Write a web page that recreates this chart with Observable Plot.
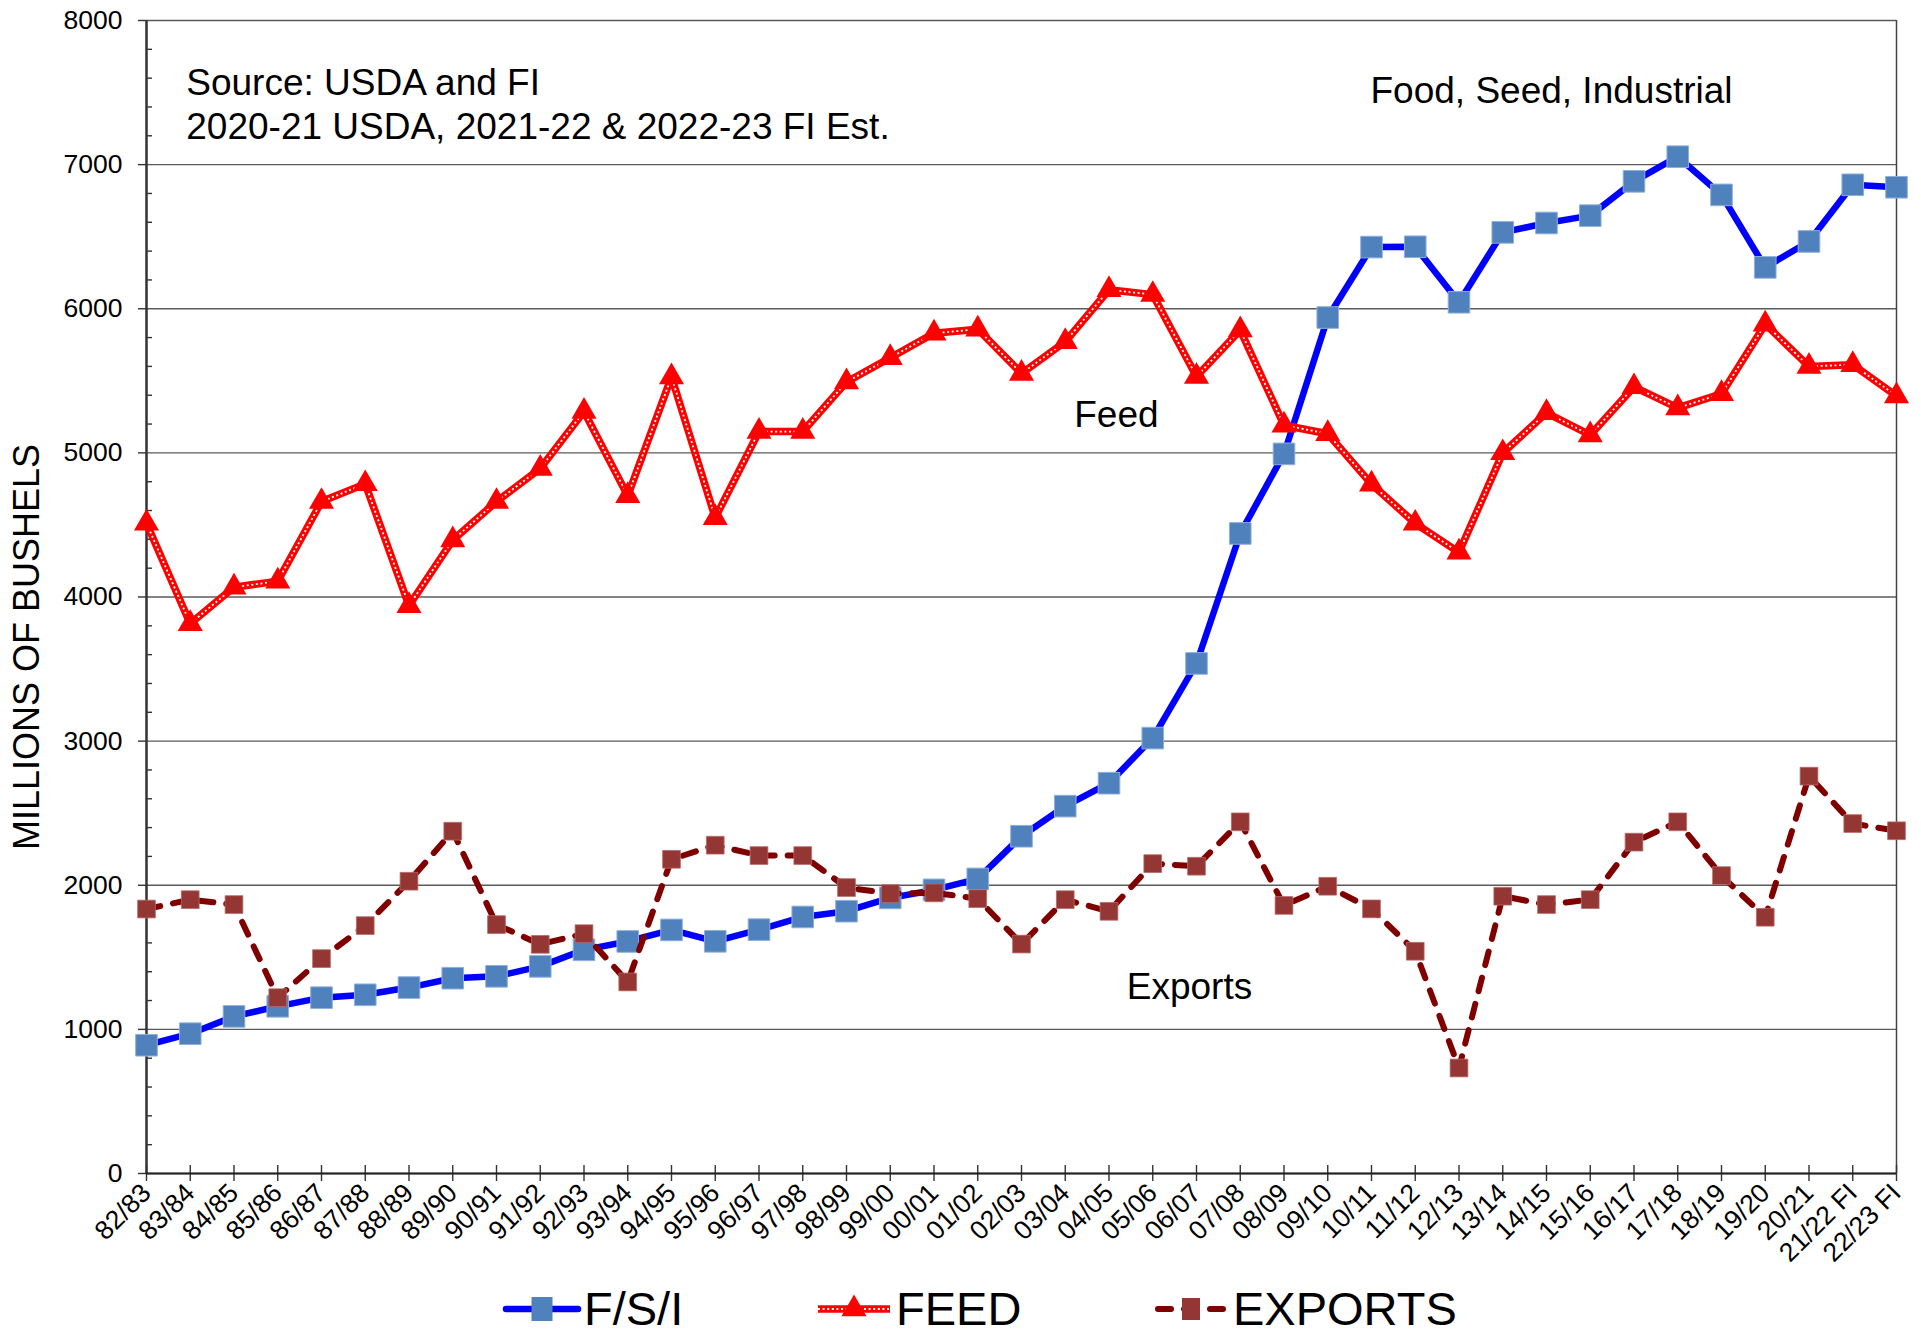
<!DOCTYPE html>
<html><head><meta charset="utf-8">
<script src="https://cdn.jsdelivr.net/npm/d3@7"></script>
<script src="https://cdn.jsdelivr.net/npm/@observablehq/plot@0.6"></script>
<style>
html,body{margin:0;padding:0;background:#fff;overflow:hidden;font-family:"Liberation Sans",Arial,sans-serif;}
#chart svg{display:block;max-width:none !important;}
</style></head><body><div id="chart"></div><script>
const years = ["82/83","83/84","84/85","85/86","86/87","87/88","88/89","89/90","90/91","91/92","92/93","93/94","94/95","95/96","96/97","97/98","98/99","99/00","00/01","01/02","02/03","03/04","04/05","05/06","06/07","07/08","08/09","09/10","10/11","11/12","12/13","13/14","14/15","15/16","16/17","17/18","18/19","19/20","20/21","21/22 FI","22/23 FI"];
const fsi = [890,970,1090,1160,1220,1240,1290,1355,1368,1437,1552,1610,1690,1611,1692,1780,1820,1912,1968,2044,2340,2549,2708,3021,3539,4441,4993,5939,6428,6430,6045,6530,6595,6646,6884,7055,6790,6287,6467,6860,6843];
const feed = [4512,3815,4068,4110,4662,4785,3940,4395,4662,4892,5287,4703,5527,4550,5148,5148,5492,5660,5830,5858,5551,5771,6132,6098,5530,5852,5192,5133,4783,4511,4310,5000,5278,5124,5458,5312,5410,5893,5600,5612,5395];
const exportsV = [1835,1900,1866,1220,1491,1720,2028,2375,1727,1590,1664,1329,2180,2278,2206,2206,1984,1942,1947,1907,1592,1900,1819,2150,2132,2440,1860,1993,1836,1542,732,1924,1866,1900,2299,2440,2067,1778,2757,2428,2378];
const yTicks = [0,1000,2000,3000,4000,5000,6000,7000,8000];
const yMinor = d3.range(0, 8001, 200).filter(v => v % 1000 !== 0);
const seriesNames = ["F/S/I", "FEED", "EXPORTS"];
const yLabel = "MILLIONS OF BUSHELS";
const notes = [
  {text: "Source: USDA and FI\n2020-21 USDA, 2021-22 & 2022-23 FI Est.", at: "83/84", value: 7700, dx: -4},
  {text: "Food, Seed, Industrial", at: "10/11", value: 7646, dx: -1},
  {text: "Feed", at: "03/04", value: 5398, dx: 9},
  {text: "Exports", at: "05/06", value: 1429, dx: -26}
];

const W = 1921, H = 1272, TOTAL = 1336;
const font = '"Liberation Sans", Arial, sans-serif';
const rows = vals => years.map((y, i) => ({year: y, value: vals[i]}));
const dFsi = rows(fsi), dFeed = rows(feed), dExp = rows(exportsV);
const pLeft = 146, pRight = 1896, pTop = 20, pBottom = 1173;

const noteMarks = notes.map(n => Plot.text([n], {x: "at", y: "value", text: "text", dx: n.dx, textAnchor: "start", lineAnchor: "top", fontSize: 37, lineHeight: 1.19, fill: "#000"}));

const chart = Plot.plot({
  width: W, height: H,
  marginTop: pTop, marginBottom: H - pBottom, marginLeft: pLeft, marginRight: W - pRight,
  style: {fontFamily: font, color: "#000", background: "#fff", overflow: "visible", maxWidth: "none"},
  x: {type: "point", domain: years, padding: 0, round: false, range: [pLeft, pRight]},
  y: {domain: [0, 8000], range: [pBottom, pTop]},
  marks: [
    Plot.gridY(yTicks, {stroke: "#5a5a5a", strokeOpacity: 1, strokeWidth: 1.4}),
    Plot.ruleX([years[years.length - 1]], {stroke: "#444", strokeWidth: 1.5}),
    Plot.axisY(yMinor, {tickSize: 6, dx: 6, tickFormat: () => "", label: null, stroke: "#333", strokeWidth: 1.4}),
    Plot.axisY(yTicks, {tickSize: 8, tickPadding: 16, fontSize: 26.5, tickFormat: d3.format("d"), label: null, stroke: "#333", strokeWidth: 1.4, fill: "#000"}),
    Plot.axisX({tickSize: 16, dy: -8, tickFormat: () => "", label: null, stroke: "#333", strokeWidth: 1.4}),
    Plot.axisX({tickSize: 0, tickPadding: 15, tickRotate: -45, fontSize: 26.5, label: null, fill: "#000"}),
    Plot.ruleX([years[0]], {stroke: "#333", strokeWidth: 2.5}),
    Plot.ruleY([0], {stroke: "#222", strokeWidth: 2}),
    Plot.line(dFsi, {x: "year", y: "value", stroke: "#0000FF", strokeWidth: 6.5}),
    Plot.dot(dFsi, {x: "year", y: "value", symbol: "square", r: 12.2, fill: "#4F81BD", stroke: "#8FB0DC", strokeWidth: 1}),
    Plot.line(dFeed, {x: "year", y: "value", stroke: "#FF0000", strokeWidth: 7.5}),
    Plot.line(dFeed, {x: "year", y: "value", stroke: "#fff", strokeWidth: 1.8, strokeDasharray: "2 2.6", strokeLinecap: "butt"}),
    Plot.dot(dFeed, {x: "year", y: "value", symbol: "triangle", r: 9.3, fill: "#FF0000"}),
    Plot.line(dExp, {x: "year", y: "value", stroke: "#800000", strokeWidth: 6, strokeDasharray: "14 13", strokeLinecap: "round"}),
    Plot.dot(dExp, {x: "year", y: "value", symbol: "square", r: 10, fill: "#943634", stroke: "#B86A68", strokeWidth: 0.8}),
    ...noteMarks,
    Plot.text([yLabel], {frameAnchor: "left", dx: -119, dy: 50, rotate: -90, textAnchor: "middle", fontSize: 36, fill: "#000"})
  ]
});
document.getElementById("chart").appendChild(chart);

// Legend below the plot
const leg = d3.select("#chart").append("svg")
  .attr("width", W).attr("height", TOTAL - H)
  .style("display", "block")
  .style("font-family", font);
const legItems = [
  {name: seriesNames[0], x: 506, kind: "fsi"},
  {name: seriesNames[1], x: 818, kind: "feed"},
  {name: seriesNames[2], x: 1155, kind: "exp"}
];
const ly = 37, swLen = 72;
legItems.forEach(it => {
  const g = leg.append("g");
  const cx = it.x + swLen / 2;
  if (it.kind === "fsi") {
    g.append("line").attr("x1", it.x).attr("x2", it.x + swLen).attr("y1", ly).attr("y2", ly)
      .attr("stroke", "#0000FF").attr("stroke-width", 6.5).attr("stroke-linecap", "round");
    g.append("rect").attr("x", cx - 10.5).attr("y", ly - 12).attr("width", 21).attr("height", 24).attr("fill", "#4F81BD");
  } else if (it.kind === "feed") {
    g.append("line").attr("x1", it.x).attr("x2", it.x + swLen).attr("y1", ly).attr("y2", ly)
      .attr("stroke", "#FF0000").attr("stroke-width", 7.5);
    g.append("line").attr("x1", it.x).attr("x2", it.x + swLen).attr("y1", ly).attr("y2", ly)
      .attr("stroke", "#fff").attr("stroke-width", 1.8).attr("stroke-dasharray", "2 2.6");
    g.append("path").attr("d", d3.symbol(d3.symbolTriangle, Math.PI * 9.3 * 9.3)()).attr("transform", `translate(${cx},${ly})`).attr("fill", "#FF0000");
  } else {
    g.append("line").attr("x1", it.x + 3).attr("x2", it.x + swLen - 3).attr("y1", ly).attr("y2", ly)
      .attr("stroke", "#800000").attr("stroke-width", 6).attr("stroke-dasharray", "13 13").attr("stroke-linecap", "round");
    g.append("rect").attr("x", cx - 9).attr("y", ly - 11).attr("width", 18).attr("height", 22).attr("fill", "#943634");
  }
  g.append("text").attr("x", it.x + swLen + 6).attr("y", ly + 16).attr("font-size", 47).attr("fill", "#000").text(it.name);
});
</script></body></html>
